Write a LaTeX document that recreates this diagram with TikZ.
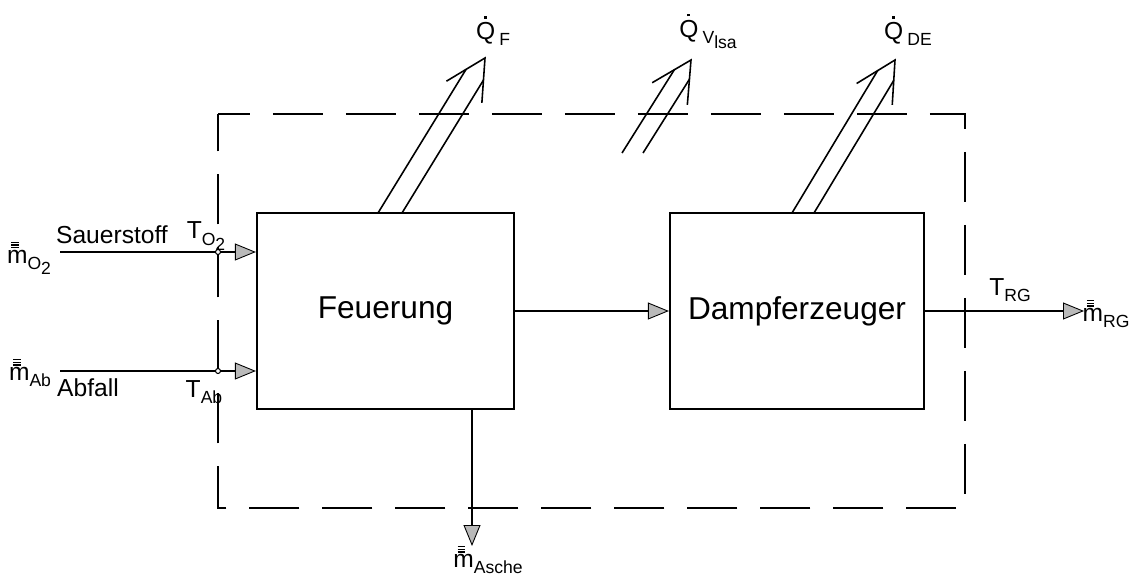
\documentclass[tikz,border=0pt]{standalone}
\usepackage{fontspec}
\setmainfont{Liberation Sans}
\usetikzlibrary{arrows.meta,calc}
\newcommand\sbs[1]{\raisebox{-0.5ex}{\fontsize{10}{11}\selectfont #1}}
\newcommand\mbar[1]{\makebox[0pt][l]{\hspace{0.17em}\raisebox{#1}{\rule{0.3em}{0.055em}}}}
\newcommand\mfl{\mbar{0.6em}\mbar{0.71em}\mbar{0.82em}m}
\newcommand\Qd{\makebox[0pt][l]{\hspace{0.33em}\raisebox{0.84em}{\rule{0.11em}{0.11em}}}Q}
\newcommand\heatarr[4]{%
  \coordinate (#1bl) at #2;
  \coordinate (#1br) at #3;
  \coordinate (#1t) at #4;
  \coordinate (#1bm) at ($(#1bl)!0.5!(#1br)$);
  \coordinate (#1pl) at ($(#1bl)+(#1t)-(#1bm)$);
  \coordinate (#1pr) at ($(#1br)+(#1t)-(#1bm)$);
  \coordinate (#1wl) at ($(#1t)!0.9cm!-27.5:(#1bm)$);
  \coordinate (#1wr) at ($(#1t)!0.9cm!27.5:(#1bm)$);
  \draw[heat] (#1bl) -- (intersection of #1bl--#1pl and #1t--#1wl);
  \draw[heat] (#1br) -- (intersection of #1br--#1pr and #1t--#1wr);
  \draw[heat] (#1wl) -- (#1t) -- (#1wr);
}
\begin{document}
\begin{tikzpicture}[x=0.02cm,y=-0.02cm,
  box/.style={draw, line width=1.3pt, inner sep=0, font=\fontsize{18}{20}\selectfont},
  bound/.style={line width=1.3pt, dash pattern=on 1cm off 0.46cm, dash phase=0.36cm},
  flow/.style={line width=0.9pt, -{Triangle[length=0.42cm,width=0.34cm,fill=gray!55,line width=0.5pt]}},
  heat/.style={line width=0.9pt},
  lbl/.style={inner sep=0, font=\fontsize{14}{16}\selectfont},
]
\useasboundingbox (0,0) rectangle (1132,578);

% system boundary
\coordinate (bTL) at (218,114);
\coordinate (bBR) at (965,508);
\draw[bound] (bTL) -- (bTL -| bBR) -- (bBR) -- (bBR -| bTL) -- cycle;

% boxes
\node[box, minimum width=5.14cm, minimum height=3.92cm] (feu) at (385.5,311) {Feuerung};
\node[box, minimum width=5.08cm, minimum height=3.92cm] (dam) at (797,311) {Dampferzeuger};

% inputs
\coordinate (o2s) at (60,252);
\coordinate (abs) at (60,371);
\draw[flow] (o2s) -- (o2s -| feu.west);
\draw[flow] (abs) -- (abs -| feu.west);
\draw[line width=0.6pt, fill=white] (o2s -| bTL) circle (0.05cm);
\draw[line width=0.6pt, fill=white] (abs -| bTL) circle (0.05cm);

% internal and outputs
\draw[flow] (feu.east) -- (dam.west);
\coordinate (rgend) at (1084,311);
\draw[flow] (dam.east) -- (rgend);
\coordinate (asend) at (472,546);
\draw[flow] (feu.south -| asend) -- (asend);

% heat flows
\heatarr{qf}{(378,213)}{(402,213)}{(485,58)}
\heatarr{qv}{(622,153)}{(643,153)}{(691,60)}
\heatarr{qd}{(792,213)}{(814,213)}{(895,60)}

% labels
\node[lbl] (mo2) at (29,258) {\mfl\sbs{O\sbs{2}}};
\node[lbl] (mab) at (30,373) {\mfl\sbs{Ab}};
\node[lbl] (sauer) at (112,235) {Sauerstoff};
\node[lbl] (to2) at (206,236) {T\sbs{O\sbs{2}}};
\node[lbl] (abfall) at (88,388) {Abfall};
\node[lbl] (tab) at (204,392) {T\sbs{Ab}};
\node[lbl] (trg) at (1010,290) {T\sbs{RG}};
\node[lbl] (mrg) at (1106,314) {\mfl\sbs{RG}};
\node[lbl] (masche) at (488,560) {\mfl\sbs{Asche}};
\node[lbl] (qfl) at (493,31) {\Qd\,\sbs{F}};
\node[lbl] (qvl) at (708,31) {\Qd\,\sbs{V\sbs{lsa}}};
\node[lbl] (qdl) at (908,31) {\Qd\,\sbs{DE}};
\end{tikzpicture}
\end{document}
